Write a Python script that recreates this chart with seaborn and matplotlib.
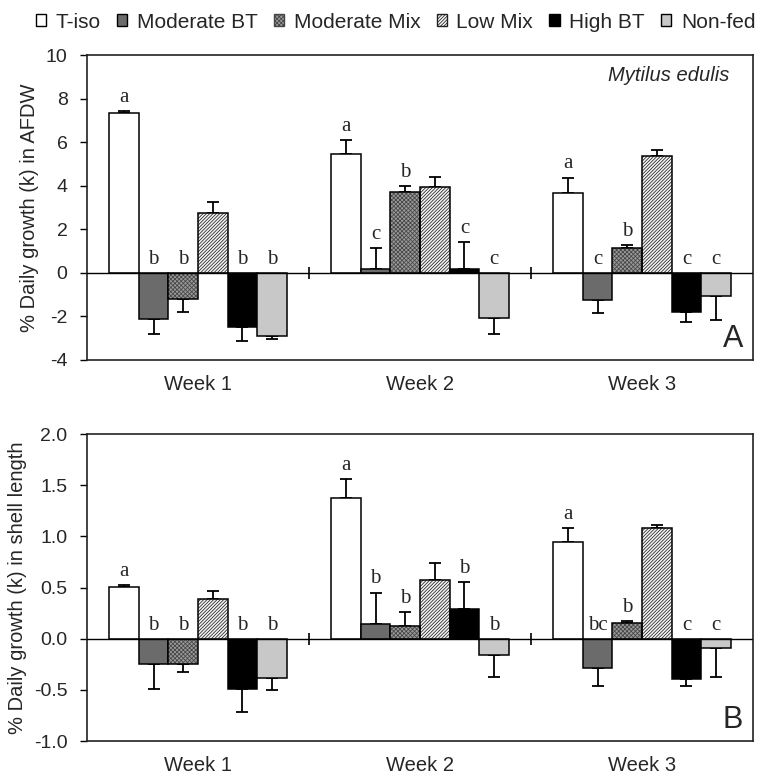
import numpy as np
import pandas as pd
import matplotlib
matplotlib.use("Agg")
import matplotlib.pyplot as plt
import seaborn as sns
from matplotlib.patches import Patch, Rectangle

# ---------------- data ----------------
weeks = ["Week 1", "Week 2", "Week 3"]
treatments = ["T-iso", "Moderate BT", "Moderate Mix", "Low Mix", "High BT", "Non-fed"]

# Panel A: % daily growth (k) in AFDW  (rows = treatments, cols = weeks)
afdw_mean = [
    [7.35, 5.45, 3.65],
    [-2.10, 0.17, -1.25],
    [-1.20, 3.70, 1.15],
    [2.75, 3.92, 5.35],
    [-2.50, 0.17, -1.80],
    [-2.90, -2.05, -1.05],
]
afdw_err = [
    [0.07, 0.65, 0.72],
    [0.70, 0.96, 0.60],
    [0.59, 0.30, 0.12],
    [0.50, 0.47, 0.30],
    [0.62, 1.25, 0.46],
    [0.12, 0.76, 1.12],
]
afdw_letters = [
    ["a", "a", "a"],
    ["b", "c", "c"],
    ["b", "b", "b"],
    ["", "", ""],
    ["b", "c", "c"],
    ["b", "c", "c"],
]

# Panel B: % daily growth (k) in shell length
shell_mean = [
    [0.505, 1.37, 0.94],
    [-0.25, 0.14, -0.29],
    [-0.25, 0.12, 0.15],
    [0.39, 0.57, 1.08],
    [-0.49, 0.29, -0.39],
    [-0.38, -0.16, -0.09],
]
shell_err = [
    [0.015, 0.19, 0.14],
    [0.24, 0.31, 0.17],
    [0.08, 0.14, 0.02],
    [0.08, 0.17, 0.03],
    [0.23, 0.26, 0.07],
    [0.12, 0.21, 0.28],
]
shell_letters = [
    ["a", "a", "a"],
    ["b", "b", "bc"],
    ["b", "b", "b"],
    ["", "", ""],
    ["b", "b", "c"],
    ["b", "b", "c"],
]

# ---------------- style ----------------
sns.set_theme(style="ticks")
plt.rcParams["font.family"] = ["Liberation Sans", "DejaVu Sans"]
plt.rcParams["axes.unicode_minus"] = False
plt.rcParams["hatch.linewidth"] = 0.55

colors = {
    "T-iso": "#ffffff",
    "Moderate BT": "#6b6b6b",
    "Moderate Mix": "#999999",
    "Low Mix": "#f4f4f4",
    "High BT": "#000000",
    "Non-fed": "#c8c8c8",
}
hatches = {
    "T-iso": "",
    "Moderate BT": "",
    "Moderate Mix": "xxxxxxxx",
    "Low Mix": "//////////",
    "High BT": "",
    "Non-fed": "",
}
hatch_colors = {
    "T-iso": "black",
    "Moderate BT": "black",
    "Moderate Mix": "#454545",
    "Low Mix": "#202020",
    "High BT": "black",
    "Non-fed": "black",
}
SERIF = ["Liberation Serif", "DejaVu Serif"]


def make_df(means, errs, letters):
    rows = []
    for ti, t in enumerate(treatments):
        for wi, w in enumerate(weeks):
            rows.append(dict(week=w, treatment=t, value=means[ti][wi],
                             err=errs[ti][wi], letter=letters[ti][wi]))
    return pd.DataFrame(rows)


def draw_panel(ax, df, ylim, yticks, ylabel, fmt, corner):
    sns.barplot(data=df, x="week", y="value", hue="treatment", order=weeks,
                hue_order=treatments, palette=colors, errorbar=None,
                edgecolor="black", linewidth=1.1, legend=False, ax=ax,
                zorder=2)
    for t, cont in zip(treatments, ax.containers):
        sub = df[df.treatment == t].set_index("week").loc[weeks]
        for bar, (_, r) in zip(cont.patches, sub.iterrows()):
            if hatches[t]:
                bar.set_hatch(hatches[t])
                bar.set_edgecolor(hatch_colors[t])
                bar.set_linewidth(0)
                ax.add_patch(Rectangle(bar.get_xy(), bar.get_width(),
                                       bar.get_height(), fill=False,
                                       edgecolor="black", linewidth=1.1,
                                       zorder=2.1))
            xc = bar.get_x() + bar.get_width() / 2
            v, e = r["value"], r["err"]
            if v >= 0:
                yerr = [[0], [e]]
                top = v + e
            else:
                yerr = [[e], [0]]
                top = 0
            ax.errorbar([xc], [v], yerr=yerr, fmt="none", ecolor="black",
                        elinewidth=1.3, capsize=4, capthick=1.3, zorder=1)
            if r["letter"]:
                ax.annotate(r["letter"], (xc, top), xytext=(0, 3),
                            textcoords="offset points", ha="center",
                            va="bottom", fontsize=15, family=SERIF)
    ax.axhline(0, color="black", lw=1.0, zorder=3)
    # small break marks between weeks on the zero line
    breaks = np.arange(len(weeks) - 1) + 0.5
    ax.plot(breaks, np.zeros_like(breaks), ls="none", marker="|", ms=9,
            mew=1.2, color="black", zorder=3)
    ax.set_xlim(-0.5, len(weeks) - 0.5)
    ax.set_ylim(*ylim)
    ax.set_yticks(yticks)
    ax.set_yticklabels([fmt.format(v) for v in yticks])
    ax.set_xlabel("")
    ax.set_ylabel(ylabel, fontsize=14.5, labelpad=5)
    ax.tick_params(axis="y", length=5, width=1, direction="out",
                   labelsize=14, pad=9, color="black")
    ax.tick_params(axis="x", length=0, labelsize=14.5, pad=11)
    for s in ax.spines.values():
        s.set_visible(True)
        s.set_color("#222222")
        s.set_linewidth(1.2)
    ax.text(0.985, 0.02, corner, transform=ax.transAxes, ha="right",
            va="bottom", fontsize=22)


fig = plt.figure(figsize=(7.68, 7.76), dpi=100)
axA = fig.add_axes([0.1133, 0.5361, 0.8672, 0.3930])
axB = fig.add_axes([0.1133, 0.0451, 0.8672, 0.3956])

draw_panel(axA, make_df(afdw_mean, afdw_err, afdw_letters), (-4, 10),
           np.arange(-4, 10.1, 2), "% Daily growth (k) in AFDW", "{:.0f}", "A")
draw_panel(axB, make_df(shell_mean, shell_err, shell_letters), (-1.0, 2.0),
           np.arange(-1.0, 2.01, 0.5), "% Daily growth (k) in shell length",
           "{:.1f}", "B")

axA.text(0.965, 0.965, "Mytilus edulis", transform=axA.transAxes, ha="right",
         va="top", fontsize=14.5, style="italic")

handles = [Patch(facecolor=colors[t], edgecolor=hatch_colors[t] if hatches[t] else "black",
                 hatch=hatches[t], linewidth=1.0, label=t) for t in treatments]
fig.legend(handles=handles, loc="upper center", bbox_to_anchor=(0.515, 1.008),
           ncol=6, frameon=False, fontsize=15, handlelength=0.5,
           handleheight=0.5, handletextpad=0.45, columnspacing=0.78)

fig.savefig("out.png", dpi=100)
